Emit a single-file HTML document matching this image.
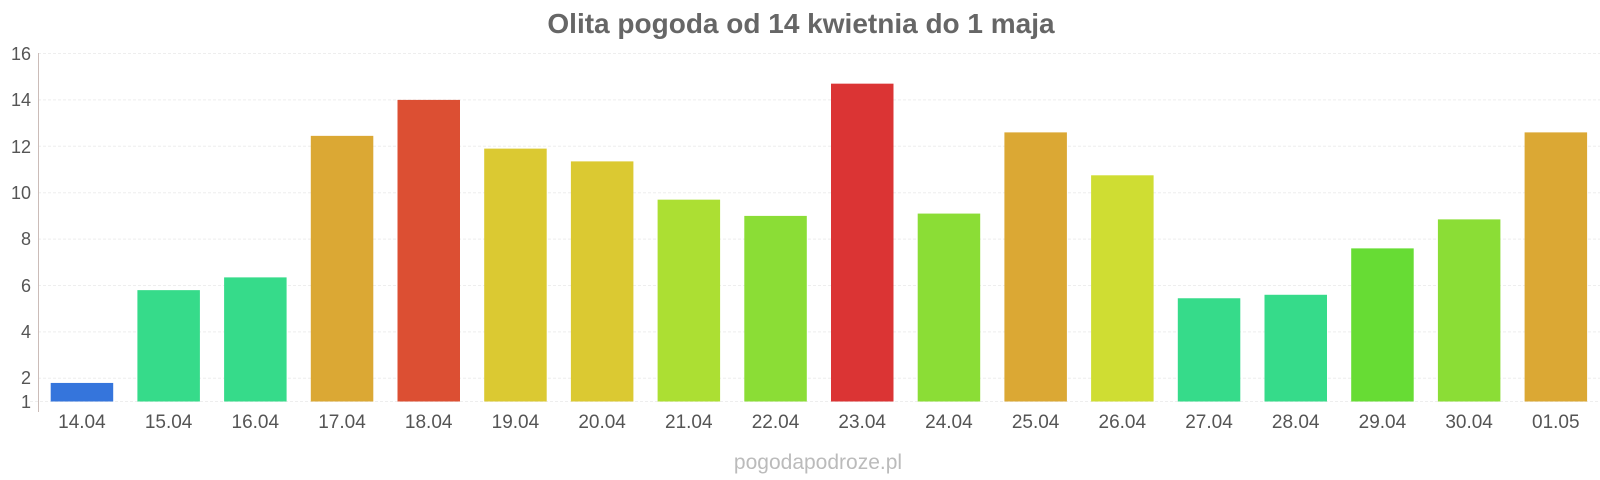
<!DOCTYPE html>
<html><head><meta charset="utf-8"><style>
html,body{margin:0;padding:0;background:#fff;}
svg{display:block;font-family:"Liberation Sans",Arial,sans-serif;}
</style></head><body>
<svg width="1600" height="480" viewBox="0 0 1600 480" xmlns="http://www.w3.org/2000/svg">
<text x="801" y="33" text-anchor="middle" font-size="28" font-weight="bold" fill="#666">Olita pogoda od 14 kwietnia do 1 maja</text>
<g stroke="#eee" stroke-width="1" stroke-dasharray="3,2">
<line x1="38" x2="1600" y1="53.5" y2="53.5"/>
<line x1="38" x2="1600" y1="99.9" y2="99.9"/>
<line x1="38" x2="1600" y1="146.3" y2="146.3"/>
<line x1="38" x2="1600" y1="192.7" y2="192.7"/>
<line x1="38" x2="1600" y1="239.1" y2="239.1"/>
<line x1="38" x2="1600" y1="285.5" y2="285.5"/>
<line x1="38" x2="1600" y1="331.9" y2="331.9"/>
<line x1="38" x2="1600" y1="378.3" y2="378.3"/>
<line x1="30" x2="1600" y1="401.5" y2="401.5"/>
</g>
<line x1="38.5" x2="38.5" y1="53" y2="412" stroke="#cbbcb8" stroke-width="1"/>
<g font-size="18" fill="#555" text-anchor="end">
<text x="31" y="60">16</text><text x="31" y="106">14</text><text x="31" y="153">12</text><text x="31" y="199">10</text>
<text x="31" y="245">8</text><text x="31" y="292">6</text><text x="31" y="338">4</text><text x="31" y="384">2</text><text x="31" y="408">1</text>
</g>
<g id="bars"></g>
<g id="labels" font-size="19" fill="#555" text-anchor="middle"></g>
<text x="818" y="469" text-anchor="middle" font-size="21" fill="#bbb">pogodapodroze.pl</text>
<script>
var d=[["14.04",1.8,"#3575dc"],["15.04",5.8,"#36db8a"],["16.04",6.35,"#36db8a"],["17.04",12.45,"#dba834"],["18.04",14.0,"#dc4f33"],["19.04",11.9,"#dbc932"],["20.04",11.35,"#dbc932"],["21.04",9.7,"#acdf33"],["22.04",9.0,"#8bdd36"],["23.04",14.7,"#db3434"],["24.04",9.1,"#8bdd36"],["25.04",12.6,"#dba834"],["26.04",10.75,"#cfdd33"],["27.04",5.45,"#36db8a"],["28.04",5.6,"#36db8a"],["29.04",7.6,"#67dc34"],["30.04",8.85,"#8bdd36"],["01.05",12.6,"#dba834"]];
var ns="http://www.w3.org/2000/svg",b=document.getElementById("bars"),l=document.getElementById("labels");
d.forEach(function(e,i){var x=50.7+i*86.7,y=401.5-(e[1]-1)*23.2;
var r=document.createElementNS(ns,"rect");r.setAttribute("x",x);r.setAttribute("y",y);r.setAttribute("width",62.5);r.setAttribute("height",401.5-y);r.setAttribute("fill",e[2]);b.appendChild(r);
var t=document.createElementNS(ns,"text");t.setAttribute("x",x+31.2);t.setAttribute("y",428);t.textContent=e[0];l.appendChild(t);});
</script>
</svg>
</body></html>
